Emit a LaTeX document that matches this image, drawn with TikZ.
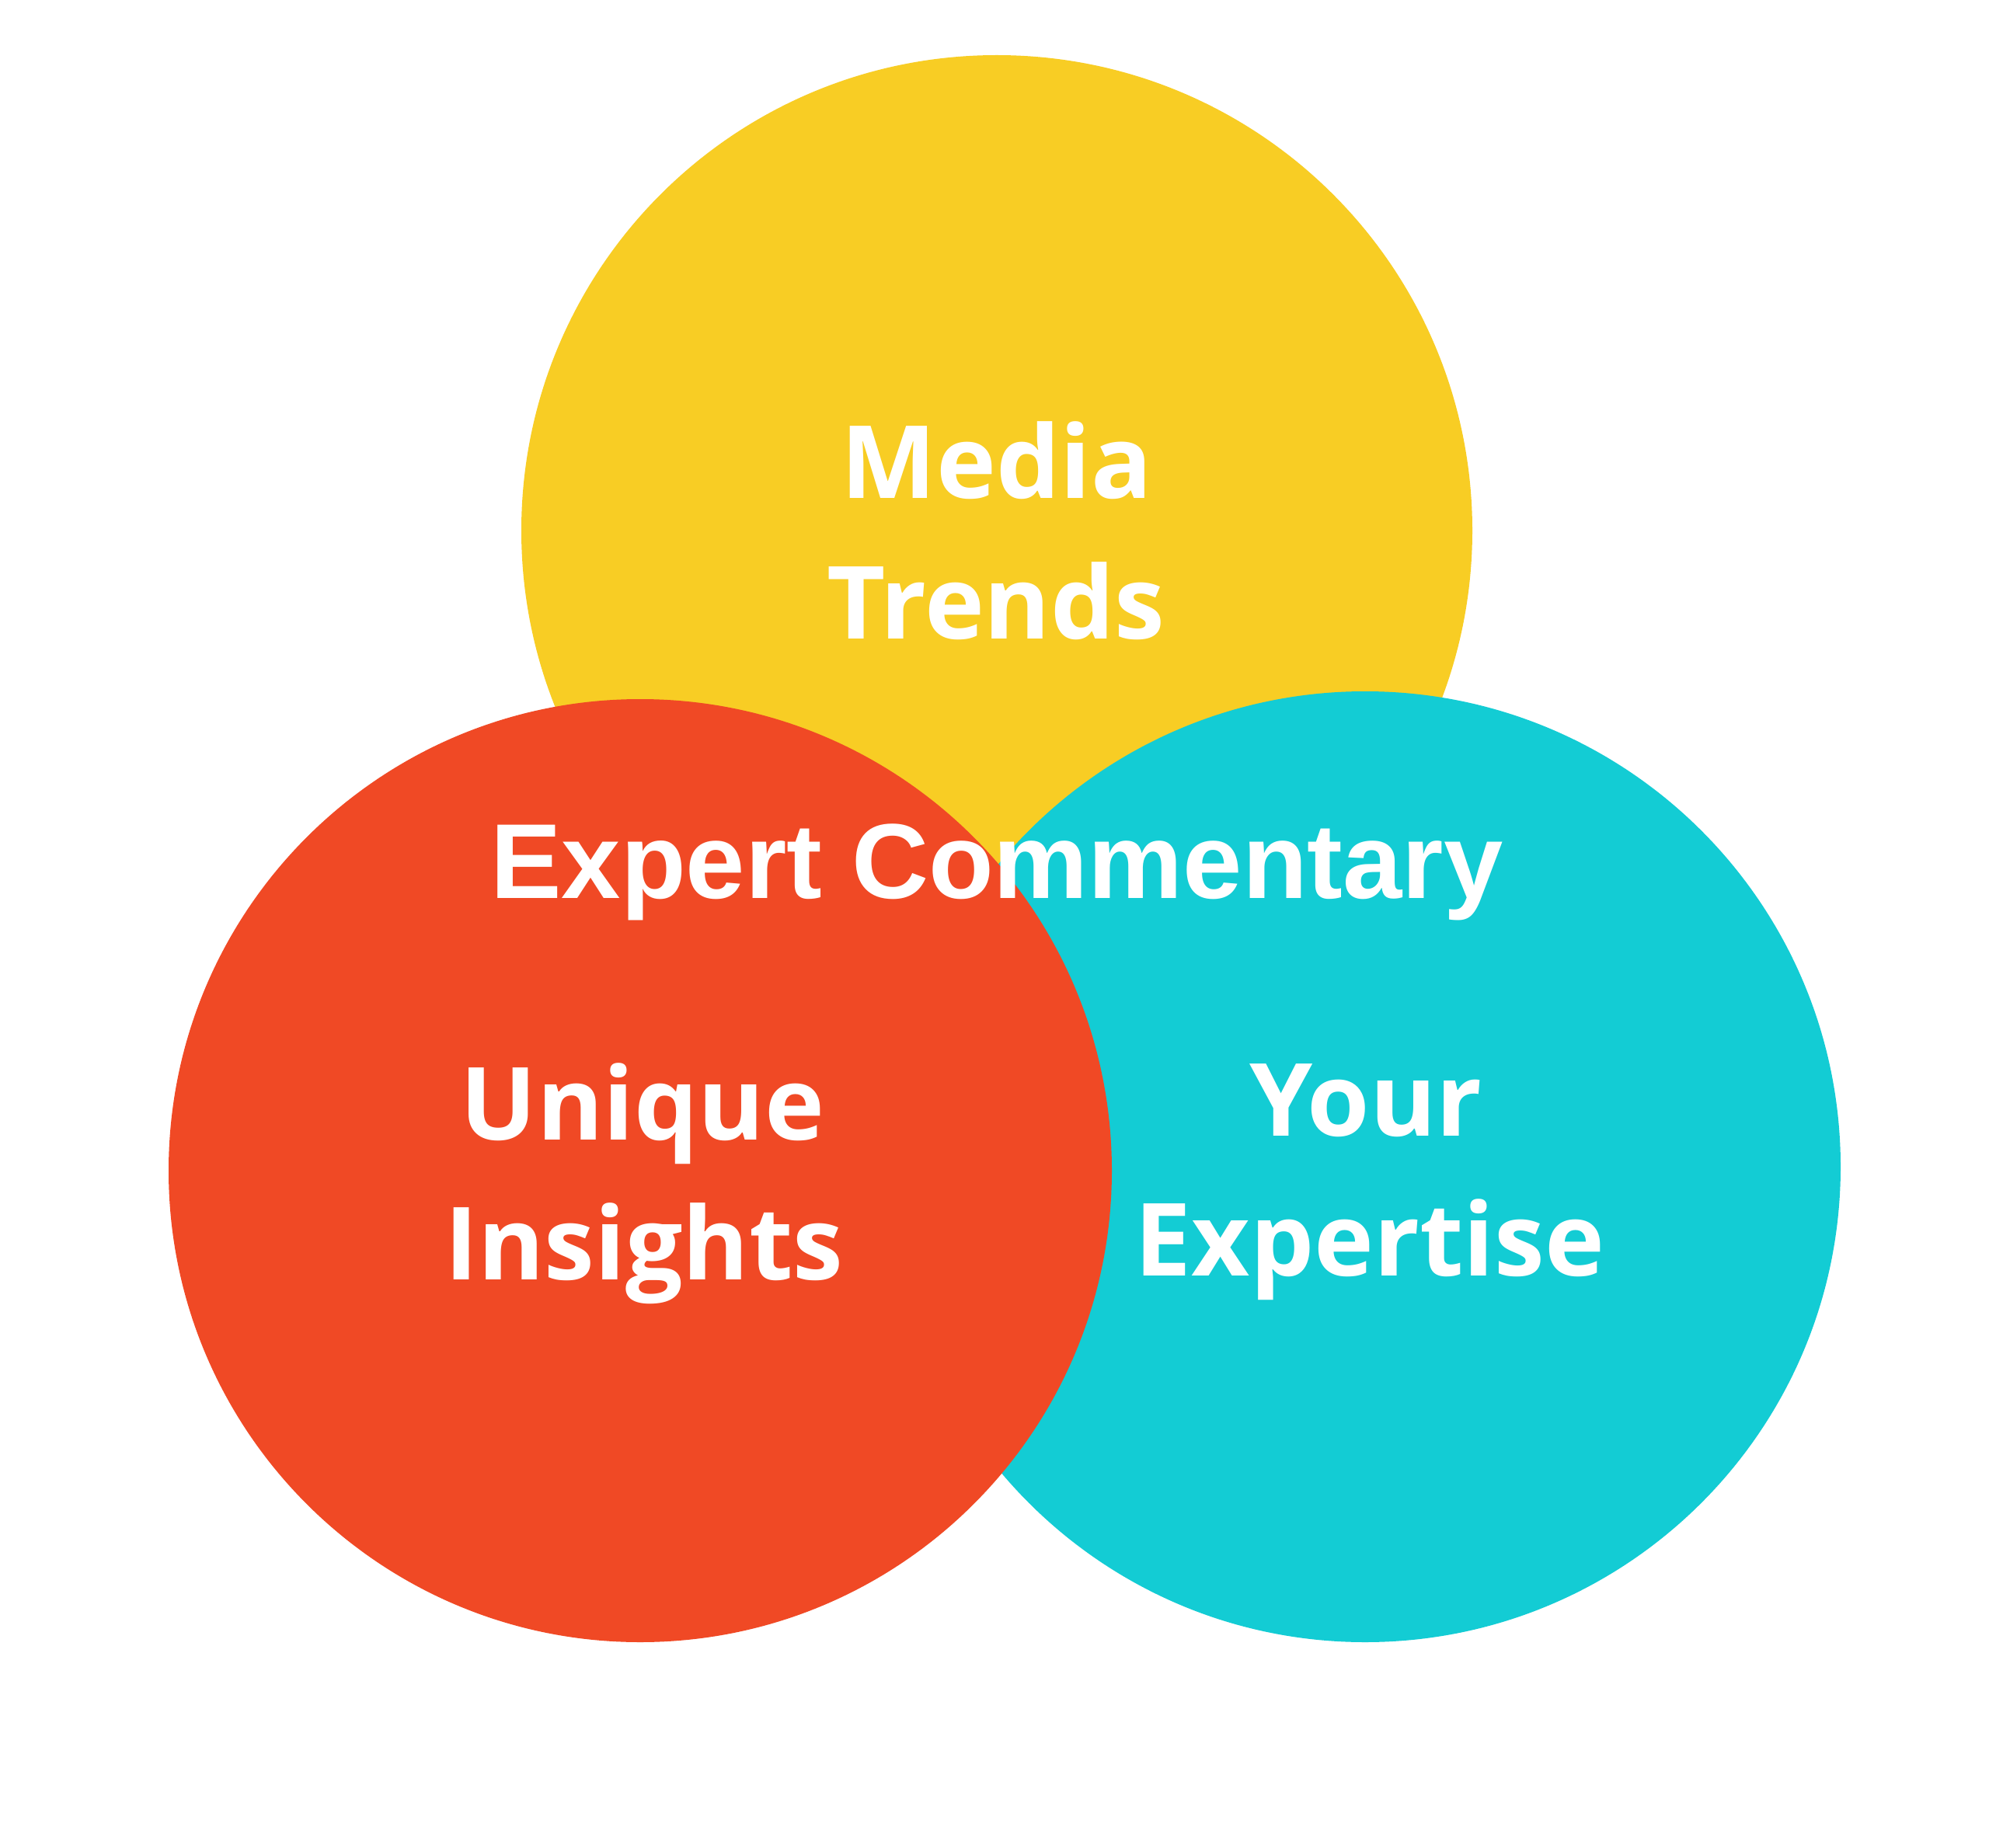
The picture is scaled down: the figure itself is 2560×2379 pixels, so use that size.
\documentclass[tikz,border=0pt]{standalone}
\usepackage{fontspec}
\setmainfont{Open Sans}
\newfontfamily\arialb{Liberation Sans}[BoldFont={Liberation Sans Bold}]
\definecolor{vyellow}{HTML}{F8CD24}
\definecolor{vred}{HTML}{F04925}
\definecolor{vcyan}{HTML}{13CCD4}
\begin{document}
\begin{tikzpicture}[x=0.01cm,y=-0.01cm,
  disc/.style={circle,inner sep=0pt,minimum size=#1},
  lbl/.style={text=white,font=\fontsize{37}{51.2}\selectfont\bfseries,align=center,anchor=base,inner sep=0pt},
  lbltwo/.style={text=white,font=\arialb\fontsize{39}{46}\selectfont\bfseries,anchor=base,inner sep=0pt}]
\useasboundingbox[fill=white] (0,0) rectangle (2560,2379);
\fill[vyellow] (1283,683) circle[radius=612];
\fill[vcyan] (1757,1502) circle[radius=612];
\fill[vred] (824,1507) circle[radius=607];
\coordinate (cy) at (1283,683);
\coordinate (cc) at (1757,1502);
\coordinate (cr) at (824,1507);
\node[lbl] (media) at (1283,642) {Media};
\node[lbl] (trends) at (1282,822) {Trends};
\node[lbltwo] (expert) at (1283,1156) {Expert Commentary};
\node[lbl] (unique) at (827,1467) {Unique};
\node[lbl] (insights) at (829,1647) {Insights};
\node[lbl] (your) at (1758,1462) {Your};
\node[lbl] (expertise) at (1763,1642) {Expertise};
\end{tikzpicture}
\end{document}
